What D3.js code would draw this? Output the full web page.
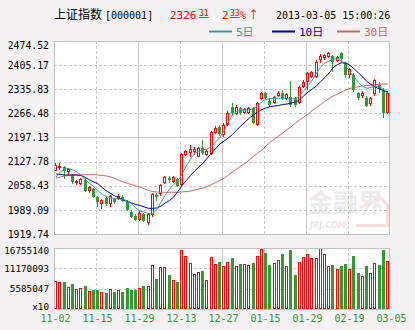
<!DOCTYPE html>
<html><head><meta charset="utf-8">
<script src="https://cdn.jsdelivr.net/npm/d3@7"></script>
<style>body{margin:0;background:#f3f1f2}svg{display:block}</style>
</head><body><svg id="c" width="415" height="330"></svg>
<script>
const dates = ["11-02","11-05","11-06","11-07","11-08","11-09","11-12","11-13","11-14","11-15",
"11-16","11-19","11-20","11-21","11-22","11-23","11-26","11-27","11-28","11-29","11-30",
"12-03","12-04","12-05","12-06","12-07","12-10","12-11","12-12","12-13","12-14",
"12-17","12-18","12-19","12-20","12-21","12-24","12-25","12-26","12-27","12-28","12-31",
"01-04","01-07","01-08","01-09","01-10","01-11","01-14","01-15","01-16","01-17","01-18",
"01-21","01-22","01-23","01-24","01-25","01-28","01-29","01-30","01-31",
"02-01","02-04","02-05","02-06","02-07","02-08","02-18","02-19","02-20","02-21","02-22",
"02-25","02-26","02-27","02-28","03-01","03-04","03-05"];
const open = [2101.7,2109.5,2113.2,2098.8,2089.3,2065.5,2062.6,2076.4,2044.2,2048.2,
2027.0,2006.0,2022.4,2006.0,2020.3,2019.5,2027.0,2012.6,1983.8,1972.3,
1960.0,1976.4,1950.5,1974.4,2031.8,2033.8,2065.5,2081.6,2068.3,2077.8,
2060.6,2146.8,2151.7,2156.3,2142.0,2166.1,2146.8,2149.7,2209.2,2228.2,
2202.9,2233.1,2285.7,2264.7,2282.0,2268.4,2266.7,2281.1,2233.1,2306.9,
2324.2,2302.9,2295.4,2316.4,2324.2,2306.9,2314.4,2309.8,2295.4,2343.1,
2356.7,2371.9,2371.9,2419.9,2424.8,2427.7,2431.4,2417.9,2440.9,2412.1,
2376.8,2376.8,2324.2,2316.4,2311.5,2293.4,2322.2,2348.0,2333.7,2268.4];
const high = [2123.0,2123.8,2116.6,2109.5,2093.6,2076.4,2079.3,2079.3,2056.3,2053.4,
2029.8,2019.5,2027.0,2031.8,2024.1,2033.8,2031.8,2017.5,1988.7,1977.2,
1985.8,1980.1,1980.1,2037.6,2036.7,2063.5,2087.3,2086.5,2086.5,2081.6,
2151.7,2161.2,2175.6,2170.7,2169.8,2189.9,2164.1,2216.7,2231.0,2233.1,
2237.4,2271.9,2296.3,2290.5,2286.2,2282.8,2285.7,2284.8,2299.2,2327.9,
2327.9,2307.8,2317.3,2329.9,2333.7,2325.0,2360.4,2313.5,2346.6,2362.4,
2386.3,2389.7,2418.5,2437.1,2438.0,2442.0,2434.3,2432.8,2443.8,2415.0,
2396.9,2382.6,2328.8,2330.8,2316.4,2313.5,2365.3,2356.7,2339.4,2329.4];
const low = [2099.4,2102.3,2077.8,2089.3,2064.9,2060.6,2059.2,2039.6,2037.6,2023.7,
1998.2,1991.6,2000.2,1996.5,2006.0,2017.5,2010.9,1985.0,1964.9,1957.1,
1955.7,1954.2,1947.0,1969.5,2015.5,2028.9,2062.6,2066.3,2065.5,2055.7,
2057.7,2143.1,2141.1,2146.8,2140.2,2146.8,2144.0,2146.8,2206.3,2201.4,
2198.6,2230.2,2263.2,2261.8,2261.8,2264.7,2263.8,2235.9,2230.2,2303.5,
2304.9,2283.4,2292.6,2312.7,2304.9,2303.5,2285.7,2286.2,2292.0,2339.4,
2333.7,2368.2,2368.2,2411.3,2419.9,2424.8,2386.3,2414.2,2415.0,2367.3,
2368.2,2328.8,2304.9,2310.7,2284.8,2287.7,2316.4,2325.0,2253.2,2266.1];
const close = [2118.1,2116.6,2100.8,2105.7,2068.3,2073.0,2077.0,2044.2,2054.0,2027.0,
2010.9,2017.5,2006.0,2028.9,2012.6,2028.9,2015.5,1988.7,1969.5,1960.0,
1979.2,1956.2,1976.4,2033.8,2026.1,2060.6,2084.4,2075.0,2082.7,2058.6,
2148.8,2158.3,2163.2,2164.1,2166.1,2151.7,2159.2,2213.8,2223.6,2206.3,
2233.1,2267.6,2267.6,2284.8,2267.6,2279.0,2282.0,2239.7,2295.4,2324.2,
2309.8,2290.5,2314.4,2325.9,2309.8,2321.3,2290.5,2290.5,2343.1,2357.5,
2381.7,2386.3,2415.0,2431.4,2434.3,2439.2,2415.0,2429.4,2421.9,2376.8,
2393.2,2333.7,2309.8,2325.9,2287.7,2309.8,2362.4,2336.5,2268.4,2326.3];
const volume = [7690000,7330000,7500000,6040000,6870000,5490000,5770000,6320000,4940000,5300000,
5300000,4750000,4480000,5490000,4750000,5220000,4750000,5850000,5300000,5300000,
5690000,6400000,6320000,12090000,8240000,11450000,11450000,9420000,7970000,7420000,
16210000,14560000,12640000,9700000,10250000,10440000,7970000,14200000,12280000,12830000,
11810000,12830000,14010000,11810000,12360000,12280000,12000000,12640000,14560000,16400000,
15380000,12090000,12550000,13380000,15110000,11730000,16210000,9340000,12830000,14200000,
15020000,13930000,13930000,16670000,15020000,11810000,12090000,10900000,11810000,12360000,
10900000,14560000,9890000,9060000,11810000,9890000,12550000,12090000,16210000,13100000];
const ma5 = [2083.6,2098.0,2106.6,2108.0,2103.7,2098.0,2087.9,2075.0,2064.9,2055.7,
2043.3,2033.3,2027.5,2023.2,2021.8,2020.3,2019.5,2014.6,2006.0,1994.5,
1985.8,1982.9,1978.6,1977.2,1991.6,2011.7,2031.8,2049.1,2062.0,2072.1,
2092.2,2115.2,2135.3,2151.1,2158.3,2161.2,2164.1,2171.3,2184.2,2197.1,
2215.8,2241.7,2261.8,2271.9,2276.2,2276.2,2276.2,2280.5,2287.7,2300.6,
2306.4,2309.2,2309.8,2309.8,2309.8,2309.2,2306.9,2309.2,2316.4,2332.2,
2346.6,2362.4,2382.5,2399.8,2411.3,2417.0,2421.3,2424.2,2417.0,2401.2,
2385.4,2371.0,2355.2,2343.7,2338.6,2340.9,2343.2,2343.2,2335.1,2323.6];
const ma10 = [2092.2,2090.8,2089.3,2089.3,2089.3,2089.3,2087.9,2082.2,2075.0,2069.2,
2063.5,2053.4,2043.3,2036.2,2028.9,2023.2,2017.5,2013.2,2008.9,2004.5,
2001.7,1997.3,1993.6,1993.6,1994.5,2000.2,2008.9,2016.0,2026.1,2041.9,
2059.2,2073.5,2087.9,2100.8,2112.3,2123.8,2138.2,2152.6,2165.5,2178.4,
2187.1,2195.7,2205.8,2218.7,2230.2,2241.7,2253.2,2261.8,2270.4,2277.6,
2282.0,2285.7,2287.7,2289.1,2292.0,2293.4,2296.3,2299.2,2304.9,2317.9,
2327.9,2336.5,2345.2,2358.1,2369.6,2382.5,2398.3,2406.9,2412.1,2411.3,
2404.1,2394.0,2382.5,2371.0,2358.1,2349.5,2342.3,2336.5,2332.2,2327.9];
const ma30 = [2080.7,2083.6,2086.5,2087.9,2089.3,2089.3,2090.2,2090.8,2090.8,2090.8,
2089.3,2087.9,2086.5,2083.6,2079.3,2073.5,2069.2,2064.9,2062.0,2057.7,
2054.8,2049.1,2044.8,2041.9,2040.5,2039.6,2039.6,2039.6,2039.6,2039.6,
2040.5,2041.9,2043.3,2046.2,2049.1,2052.0,2056.3,2062.0,2067.8,2073.5,
2080.7,2089.3,2098.0,2106.6,2115.2,2122.4,2132.5,2142.5,2152.6,2161.2,
2172.7,2184.2,2192.8,2201.4,2210.1,2220.1,2228.7,2238.8,2247.4,2256.1,
2264.7,2274.7,2283.4,2292.0,2302.0,2309.2,2316.4,2322.2,2327.9,2333.7,
2338.6,2340.9,2343.2,2345.2,2346.6,2348.0,2348.9,2350.1,2350.9,2350.9];
const priceTicks = [2474.52,2405.17,2335.83,2266.48,2197.13,2127.78,2058.43,1989.09,1919.74];
const volTicks = [16755140,11170093,5585047];
const xLabels = ["11-02","11-15","11-29","12-13","12-27","01-15","01-29","02-19","03-05"];
const maNames = ["5日","10日","30日"];

const RED="#ff0000", GREEN="#339933", TEAL="#3a9c9c", NAVY="#000099", ROSE="#cc6666", GRID="#c8c8c8";
const MONO="'DejaVu Sans Mono',monospace", CJK="'Noto Sans CJK SC',sans-serif";
const M={l:54,r:390,t:41,b:234}, V={t:248,b:309};
const svg=d3.select("#c");
svg.append("rect").attr("width",415).attr("height",330).attr("fill","#f3f1f2");

const x=d3.scaleBand().domain(dates).range([M.l,M.r]);
const bw=x.bandwidth();
const cx=d=>x(d)+bw/2;
const y=d3.scaleLinear().domain([priceTicks[8],priceTicks[0]]).range([M.b,M.t]);
const yv=d3.scaleLinear().domain([0,volTicks[0]]).range([V.b,V.t]);

// panes
svg.append("rect").attr("x",M.l).attr("y",M.t).attr("width",M.r-M.l).attr("height",M.b-M.t).attr("fill","#fff");
svg.append("rect").attr("x",M.l).attr("y",V.t).attr("width",M.r-M.l).attr("height",V.b-V.t).attr("fill","#fff");
const defs=svg.append("defs");
defs.append("clipPath").attr("id","cm").append("rect").attr("x",M.l).attr("y",M.t).attr("width",M.r-M.l).attr("height",M.b-M.t);
defs.append("clipPath").attr("id","cv").append("rect").attr("x",M.l).attr("y",V.t).attr("width",M.r-M.l).attr("height",V.b-V.t);

// watermark
const wm=svg.append("g");
wm.append("path").attr("d","M356,225.5H387.5V205L379,196.5L366,207").attr("fill","none").attr("stroke","#f7dede").attr("stroke-width",3);
wm.append("text").attr("x",308).attr("y",212).attr("font-family",CJK).attr("font-weight","bold").attr("font-size",25).attr("fill","#eeeaeb").text("金融界");
wm.append("text").attr("x",310).attr("y",228).attr("font-family","'DejaVu Sans',sans-serif").attr("font-style","italic").attr("font-weight","bold").attr("font-size",8).attr("fill","#ebe3e3").text("JRJ.COM");

// grid
const grid=svg.append("g");
priceTicks.slice(1,-1).forEach((t,i)=>{
  const yy=Math.round(y(t))+0.5;
  grid.append("line").attr("x1",M.l).attr("x2",M.r).attr("y1",yy).attr("y2",yy).attr("stroke",GRID)
    .attr("stroke-dasharray",i===3?null:"3,2");
});
volTicks.slice(1).forEach(t=>{
  const yy=Math.round(yv(t))+0.5;
  grid.append("line").attr("x1",M.l).attr("x2",M.r).attr("y1",yy).attr("y2",yy).attr("stroke",GRID).attr("stroke-dasharray","3,2");
});
for(let k=1;k<8;k++){
  const xx=Math.round(x(dates[k*10]))+0.5;
  [[M.t,M.b],[V.t,V.b]].forEach(([a,b])=>{
    grid.append("line").attr("x1",xx).attr("x2",xx).attr("y1",a).attr("y2",b).attr("stroke",GRID)
      .attr("stroke-dasharray",k%2===0?null:"3,2");
  });
}

// candles
const data=dates.map((d,i)=>({d,o:open[i],h:high[i],l:low[i],c:close[i],v:volume[i]}));
const cg=svg.append("g").attr("clip-path","url(#cm)");
const cs=cg.selectAll("g").data(data).join("g");
cs.each(function(p){
  const g=d3.select(this), up=p.c>=p.o, col=up?RED:GREEN;
  const left=Math.floor(cx(p.d)-1.5);
  g.append("line").attr("x1",left+1.5).attr("x2",left+1.5).attr("y1",Math.round(y(p.h))).attr("y2",Math.round(y(p.l))).attr("stroke",col);
  const top=Math.round(y(Math.max(p.o,p.c))), bot=Math.round(y(Math.min(p.o,p.c)));
  if(up) g.append("rect").attr("x",left+0.5).attr("y",top+0.5).attr("width",2).attr("height",Math.max(bot-top-1,0)).attr("fill","#fff").attr("stroke",col);
  else g.append("rect").attr("x",left).attr("y",top).attr("width",3).attr("height",Math.max(bot-top,1)).attr("fill",col);
});
// volume
const vg=svg.append("g").attr("clip-path","url(#cv)");
vg.selectAll("rect").data(data).join("rect").each(function(p){
  const up=p.c>=p.o, left=Math.floor(cx(p.d)-1.5), top=Math.round(yv(p.v));
  const r=d3.select(this);
  if(up) r.attr("x",left+0.5).attr("y",top+0.5).attr("width",2).attr("height",V.b-top-1).attr("fill","#fff").attr("stroke",RED);
  else r.attr("x",left).attr("y",top).attr("width",3).attr("height",V.b-top).attr("fill",GREEN);
});
// MA lines
const line=d3.line().x((v,i)=>cx(dates[i])).y(v=>y(v));
[[ma30,ROSE],[ma10,NAVY],[ma5,TEAL]].forEach(([s,c])=>{
  cg.append("path").attr("d",line(s)).attr("fill","none").attr("stroke",c).attr("stroke-width",1);
});

// borders
svg.append("rect").attr("x",M.l+0.5).attr("y",M.t+0.5).attr("width",M.r-M.l-1).attr("height",M.b-M.t).attr("fill","none").attr("stroke","#c0c0c0");
svg.append("rect").attr("x",M.l+0.5).attr("y",V.t+0.5).attr("width",M.r-M.l-1).attr("height",V.b-V.t).attr("fill","none").attr("stroke","#c0c0c0");

// y axes
const ya=svg.append("g").attr("transform",`translate(${M.l-5},0)`)
  .call(d3.axisLeft(y).tickValues(priceTicks).tickFormat(d3.format(".2f")).tickSize(0).tickPadding(0));
ya.select(".domain").remove();
ya.selectAll("text").attr("font-family",MONO).attr("font-size",9.8).attr("fill","#000")
  .attr("dy",(d)=> d===priceTicks[0]? "0.75em":"0.32em");
const va=svg.append("g").attr("transform",`translate(${M.l-5},0)`)
  .call(d3.axisLeft(yv).tickValues([...volTicks,0]).tickFormat(d=>d===0?"x10":String(d)).tickSize(0).tickPadding(0));
va.select(".domain").remove();
va.selectAll("text").attr("font-family",MONO).attr("font-size",9.3).attr("fill","#000")
  .attr("dy",d=> d===volTicks[0]?"0.55em": d===0?"0.05em":"0.32em");
svg.selectAll(".tick line").remove();

// x labels
svg.append("g").selectAll("text").data(xLabels).join("text")
  .attr("x",(d,i)=>{const xi=x(d); return (i===0?xi:xi+bw)+1.5;})
  .attr("y",322).attr("text-anchor","middle").attr("font-family",MONO).attr("font-size",10).attr("fill",GREEN).text(d=>d);

// header
const h=svg.append("g");
h.append("text").attr("x",54).attr("y",19).attr("font-family",CJK).attr("font-size",12).attr("fill","#000").text("上证指数");
h.append("text").attr("x",105).attr("y",19).attr("font-family",MONO).attr("font-size",10).attr("fill","#000").text("[000001]");
h.append("text").attr("x",170).attr("y",19).attr("font-family",MONO).attr("font-size",11).attr("fill",RED).text("2326");
h.append("text").attr("x",199).attr("y",16).attr("font-family",MONO).attr("font-size",8).attr("fill",RED).attr("text-decoration","underline").text("31");
h.append("text").attr("x",222).attr("y",19).attr("font-family",MONO).attr("font-size",11).attr("fill",RED).text("2");
h.append("text").attr("x",230).attr("y",16).attr("font-family",MONO).attr("font-size",8).attr("fill",RED).attr("text-decoration","underline").text("33");
h.append("text").attr("x",240).attr("y",19).attr("font-family",MONO).attr("font-size",10).attr("fill",RED).text("%");
h.append("text").attr("x",248).attr("y",19).attr("font-family",CJK).attr("font-size",11).attr("fill",RED).text("↑");
h.append("text").attr("x",276).attr("y",19).attr("font-family",MONO).attr("font-size",10).attr("fill","#000").text("2013-03-05 15:00:26");

// legend
const lg=[[209,TEAL],[272,NAVY],[337,ROSE]];
lg.forEach(([lx,c],i)=>{
  h.append("line").attr("x1",lx).attr("x2",lx+23).attr("y1",31.5).attr("y2",31.5).attr("stroke",c).attr("stroke-width",2);
  h.append("text").attr("x",lx+27).attr("y",36).attr("font-family",`'DejaVu Sans Mono','Noto Sans CJK SC'`).attr("font-size",11).attr("fill",c).text(maNames[i]);
});
</script></body></html>
